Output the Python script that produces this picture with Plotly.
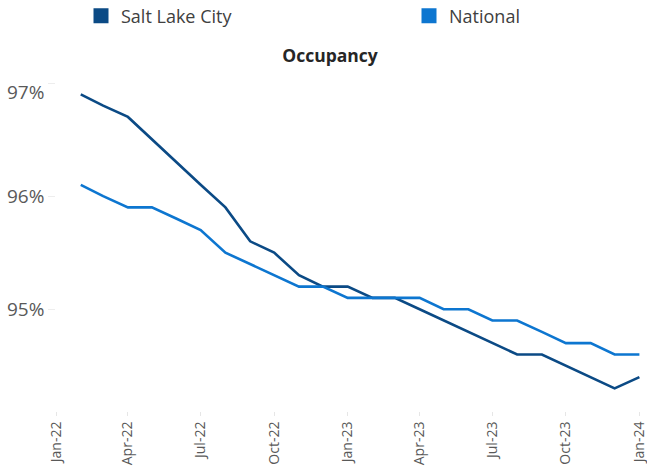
import plotly.graph_objects as go

months = ["2022-02-01","2022-03-01","2022-04-01","2022-05-01","2022-06-01","2022-07-01",
          "2022-08-01","2022-09-01","2022-10-01","2022-11-01","2022-12-01","2023-01-01",
          "2023-02-01","2023-03-01","2023-04-01","2023-05-01","2023-06-01","2023-07-01",
          "2023-08-01","2023-09-01","2023-10-01","2023-11-01","2023-12-01","2024-01-01"]
salt_lake_city = [96.9, 96.8, 96.7, 96.5, 96.3, 96.1, 95.9, 95.6, 95.5, 95.3, 95.2, 95.2,
                  95.1, 95.1, 95.0, 94.9, 94.8, 94.7, 94.6, 94.6, 94.5, 94.4, 94.3, 94.4]
national = [96.1, 96.0, 95.9, 95.9, 95.8, 95.7, 95.5, 95.4, 95.3, 95.2, 95.2, 95.1,
            95.1, 95.1, 95.1, 95.0, 95.0, 94.9, 94.9, 94.8, 94.7, 94.7, 94.6, 94.6]
y_ticks = [95, 96, 97]
y_tick_labels = ["95%", "96%", "97%"]

slc_color = "#0B4A85"
nat_color = "#0D76D0"
font_family = "Open Sans"

fig = go.Figure()
fig.add_trace(go.Scatter(x=months, y=salt_lake_city, mode="lines", name="Salt Lake City",
                         line=dict(color=slc_color, width=2.6), showlegend=False))
fig.add_trace(go.Scatter(x=months, y=national, mode="lines", name="National",
                         line=dict(color=nat_color, width=2.6), showlegend=False))
# legend entries with square swatches
fig.add_trace(go.Scatter(x=[None], y=[None], mode="markers", name="Salt Lake City",
                         marker=dict(symbol="square", size=15, color=slc_color), legend="legend"))
fig.add_trace(go.Scatter(x=[None], y=[None], mode="markers", name="National",
                         marker=dict(symbol="square", size=15, color=nat_color), legend="legend2"))

# y tick labels drawn as annotations (top label sits slightly below its tick, as in the original)
for v, lab in zip(y_ticks, y_tick_labels):
    fig.add_annotation(x=0, xref="paper", y=v, yref="y", text=lab, showarrow=False,
                       xanchor="right", yanchor="middle", xshift=-10,
                       yshift=-9 if v == max(y_ticks) else 0,
                       font=dict(size=19, color="#595959", family=font_family))

legend_common = dict(orientation="h", xanchor="left", y=1 + (83 - 16) / 328, yanchor="middle",
                     font=dict(size=18, color="#404040"), itemclick=False,
                     bgcolor="rgba(0,0,0,0)")

fig.update_layout(
    width=647, height=473,
    margin=dict(l=56, r=6, t=83, b=62, autoexpand=False),
    paper_bgcolor="white", plot_bgcolor="white",
    font=dict(family=font_family, color="#404040"),
    title=dict(text="<b>Occupancy</b>", x=330 / 647, xanchor="center", y=1 - 56 / 473,
               yanchor="middle", font=dict(size=17.5, color="#262626", family=font_family)),
    legend=dict(x=(81 - 56) / 585, **legend_common),
    legend2=dict(x=(409 - 56) / 585, **legend_common),
    xaxis=dict(type="date", range=["2022-01-01", "2024-01-03"], dtick="M3", tick0="2022-01-01",
               tickformat="%b-%y", tickangle=-90, showgrid=False, zeroline=False, showline=False,
               ticks="outside", ticklen=4, tickcolor="#E6E6E6", ticklabeloverflow="allow",
               automargin=False, tickfont=dict(size=14, color="#595959")),
    yaxis=dict(range=[94.1, 97.0], tickvals=y_ticks, showticklabels=False, showgrid=False,
               zeroline=False, showline=False, ticks="outside", ticklen=7, tickcolor="#EDEDED",
               automargin=False),
)

fig.write_html("out.html", config={"displayModeBar": False},
               post_script="document.body.style.margin='0px';")
